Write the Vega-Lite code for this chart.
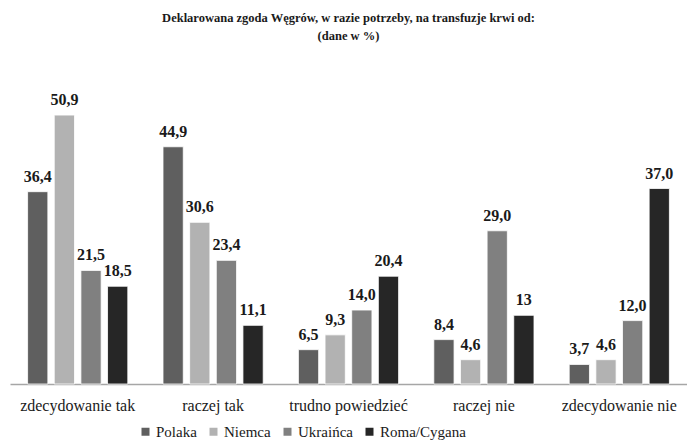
{
  "$schema": "https://vega.github.io/schema/vega-lite/v6.json",
  "width": 677,
  "height": 317,
  "autosize": {"type": "none"},
  "padding": {"left": 10, "top": 67, "right": 0, "bottom": 60},
  "background": "white",
  "config": {"view": {"stroke": null}, "font": "Liberation Serif"},
  "title": {
    "text": ["Deklarowana zgoda Węgrów, w razie potrzeby, na transfuzje krwi od:", "(dane w %)"],
    "font": "Liberation Serif",
    "fontSize": 12.5,
    "fontWeight": "bold",
    "color": "#1a1a1a",
    "anchor": "middle",
    "offset": 25,
    "lineHeight": 18
  },
  "data": {
    "values": [
      {"kat": "zdecydowanie tak", "grupa": "Polaka", "v": 36.4, "label": "36,4"},
      {"kat": "zdecydowanie tak", "grupa": "Niemca", "v": 50.9, "label": "50,9"},
      {"kat": "zdecydowanie tak", "grupa": "Ukraińca", "v": 21.5, "label": "21,5"},
      {"kat": "zdecydowanie tak", "grupa": "Roma/Cygana", "v": 18.5, "label": "18,5"},
      {"kat": "raczej tak", "grupa": "Polaka", "v": 44.9, "label": "44,9"},
      {"kat": "raczej tak", "grupa": "Niemca", "v": 30.6, "label": "30,6"},
      {"kat": "raczej tak", "grupa": "Ukraińca", "v": 23.4, "label": "23,4"},
      {"kat": "raczej tak", "grupa": "Roma/Cygana", "v": 11.1, "label": "11,1"},
      {"kat": "trudno powiedzieć", "grupa": "Polaka", "v": 6.5, "label": "6,5"},
      {"kat": "trudno powiedzieć", "grupa": "Niemca", "v": 9.3, "label": "9,3"},
      {"kat": "trudno powiedzieć", "grupa": "Ukraińca", "v": 14.0, "label": "14,0"},
      {"kat": "trudno powiedzieć", "grupa": "Roma/Cygana", "v": 20.4, "label": "20,4"},
      {"kat": "raczej nie", "grupa": "Polaka", "v": 8.4, "label": "8,4"},
      {"kat": "raczej nie", "grupa": "Niemca", "v": 4.6, "label": "4,6"},
      {"kat": "raczej nie", "grupa": "Ukraińca", "v": 29.0, "label": "29,0"},
      {"kat": "raczej nie", "grupa": "Roma/Cygana", "v": 13, "label": "13"},
      {"kat": "zdecydowanie nie", "grupa": "Polaka", "v": 3.7, "label": "3,7"},
      {"kat": "zdecydowanie nie", "grupa": "Niemca", "v": 4.6, "label": "4,6"},
      {"kat": "zdecydowanie nie", "grupa": "Ukraińca", "v": 12.0, "label": "12,0"},
      {"kat": "zdecydowanie nie", "grupa": "Roma/Cygana", "v": 37.0, "label": "37,0"}
    ]
  },
  "encoding": {
    "x": {
      "field": "kat", "type": "nominal", "sort": null,
      "scale": {"paddingInner": 0.26, "paddingOuter": 0.13},
      "axis": {
        "title": null, "labelAngle": 0, "ticks": false,
        "labelFont": "Liberation Serif", "labelFontSize": 16, "labelColor": "#1a1a1a",
        "labelPadding": 13, "domainColor": "#a6a6a6", "domainWidth": 1.5, "grid": false
      }
    },
    "xOffset": {
      "field": "grupa", "type": "nominal", "sort": ["Polaka", "Niemca", "Ukraińca", "Roma/Cygana"],
      "scale": {"paddingInner": 0.24, "paddingOuter": 0}
    },
    "y": {
      "field": "v", "type": "quantitative",
      "scale": {"domain": [0, 60], "nice": false},
      "axis": null
    }
  },
  "layer": [
    {
      "mark": {"type": "bar", "stroke": "white", "strokeWidth": 0.8},
      "encoding": {
        "color": {
          "field": "grupa", "type": "nominal",
          "sort": ["Polaka", "Niemca", "Ukraińca", "Roma/Cygana"],
          "scale": {"domain": ["Polaka", "Niemca", "Ukraińca", "Roma/Cygana"], "range": ["#5f5f5f", "#b2b2b2", "#808080", "#262626"]},
          "legend": {
            "title": null, "orient": "none", "direction": "horizontal", "columns": 4,
            "legendX": 128, "legendY": 357,
            "symbolType": "square", "symbolSize": 64, "symbolStrokeWidth": 0,
            "labelFont": "Liberation Serif", "labelFontSize": 15, "labelColor": "#1a1a1a",
            "columnPadding": 9, "labelOffset": 3
          }
        }
      }
    },
    {
      "mark": {"type": "text", "baseline": "bottom", "dy": -7, "font": "Liberation Serif", "fontSize": 16, "fontWeight": "bold", "color": "#1a1a1a"},
      "encoding": {"text": {"field": "label"}}
    }
  ]
}
